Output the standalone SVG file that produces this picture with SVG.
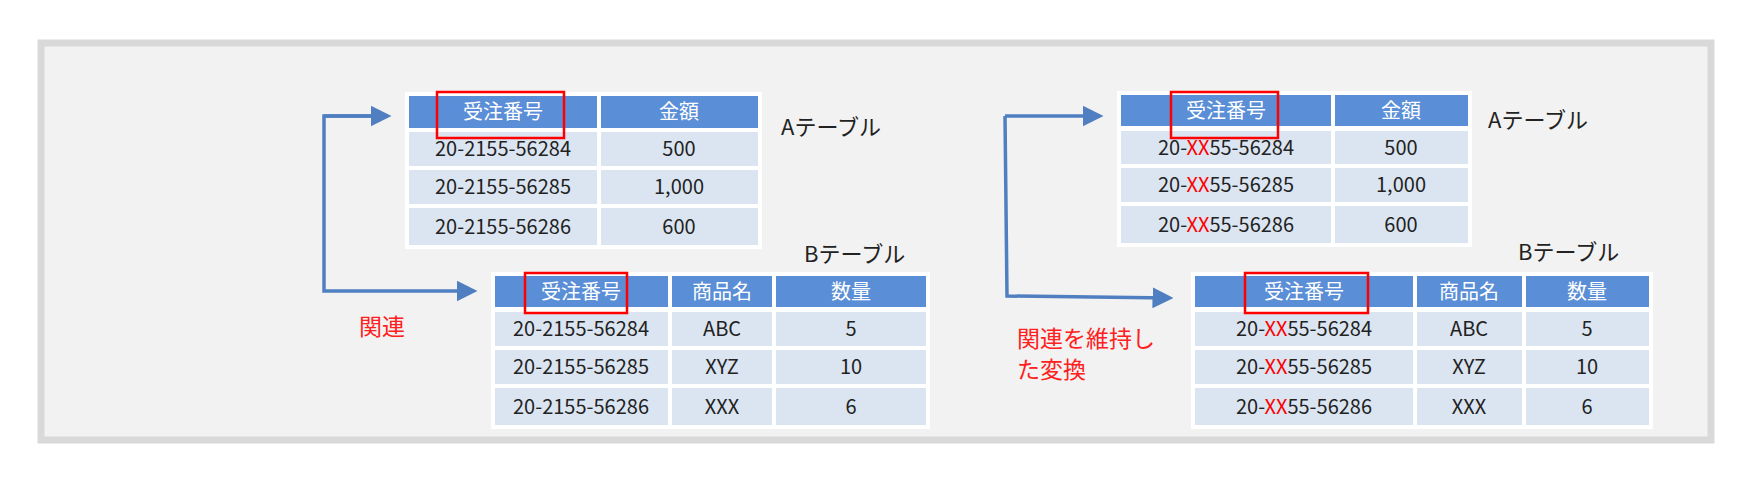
<svg xmlns="http://www.w3.org/2000/svg" width="1756" height="486" viewBox="0 0 1756 486">
<style>
.h{fill:#5a8ed6}.c{fill:#dbe5f1}.bk{fill:#fff}
text{font-family:"Noto Sans CJK JP","Noto Sans",sans-serif;font-size:20px;text-anchor:middle;fill:#222}
.ht{fill:#fff}
.lbl{text-anchor:start;font-size:22px}
.red{fill:#ff0000}
.rl{text-anchor:start;font-size:23px;fill:#ff2020}
.rb{fill:none;stroke:#ff0000;stroke-width:2.5}
.ar{fill:none;stroke:#4f7fc0;stroke-width:3.5}
</style>
<defs><marker id="ah" markerWidth="6" markerHeight="6" refX="5" refY="3" orient="auto" markerUnits="strokeWidth"><path d="M0,0 L6,3 L0,6 z" fill="#4f7fc0"/></marker></defs>
<rect x="41" y="43" width="1670" height="397" fill="#f2f2f2" stroke="#d9d9d9" stroke-width="7"/>

<g id="leftA">
<rect class="bk" x="405" y="92" width="357" height="157"/>
<rect class="h" x="409" y="96" width="188" height="32"/><rect class="h" x="601" y="96" width="157" height="32"/>
<rect class="c" x="409" y="132" width="188" height="34"/><rect class="c" x="601" y="132" width="157" height="34"/>
<rect class="c" x="409" y="170" width="188" height="34"/><rect class="c" x="601" y="170" width="157" height="34"/>
<rect class="c" x="409" y="208" width="188" height="37"/><rect class="c" x="601" y="208" width="157" height="37"/>
<text class="ht" x="503" y="119">受注番号</text><text class="ht" x="679" y="119">金額</text>
<text x="503" y="156">20-2155-56284</text><text x="679" y="156">500</text>
<text x="503" y="194">20-2155-56285</text><text x="679" y="194">1,000</text>
<text x="503" y="234">20-2155-56286</text><text x="679" y="234">600</text>
<rect class="rb" x="437" y="92" width="127" height="46"/>
<text class="lbl" x="781" y="135">Aテーブル</text>
</g>

<g id="leftB">
<rect class="bk" x="491" y="272" width="439" height="157"/>
<rect class="h" x="495" y="276" width="173" height="31"/><rect class="h" x="672" y="276" width="100" height="31"/><rect class="h" x="776" y="276" width="150" height="31"/>
<rect class="c" x="495" y="312" width="173" height="34"/><rect class="c" x="672" y="312" width="100" height="34"/><rect class="c" x="776" y="312" width="150" height="34"/>
<rect class="c" x="495" y="350" width="173" height="34"/><rect class="c" x="672" y="350" width="100" height="34"/><rect class="c" x="776" y="350" width="150" height="34"/>
<rect class="c" x="495" y="388" width="173" height="37"/><rect class="c" x="672" y="388" width="100" height="37"/><rect class="c" x="776" y="388" width="150" height="37"/>
<text class="ht" x="581" y="299">受注番号</text><text class="ht" x="722" y="299">商品名</text><text class="ht" x="851" y="299">数量</text>
<text x="581" y="336">20-2155-56284</text><text x="722" y="336">ABC</text><text x="851" y="336">5</text>
<text x="581" y="374">20-2155-56285</text><text x="722" y="374">XYZ</text><text x="851" y="374">10</text>
<text x="581" y="414">20-2155-56286</text><text x="722" y="414">XXX</text><text x="851" y="414">6</text>
<rect class="rb" x="525" y="273" width="102" height="40"/>
<text class="lbl" x="804" y="262">Bテーブル</text>
</g>

<g id="rightA">
<rect class="bk" x="1117" y="91" width="355" height="156"/>
<rect class="h" x="1121" y="95" width="210" height="31"/><rect class="h" x="1335" y="95" width="133" height="31"/>
<rect class="c" x="1121" y="131" width="210" height="33"/><rect class="c" x="1335" y="131" width="133" height="33"/>
<rect class="c" x="1121" y="168" width="210" height="34"/><rect class="c" x="1335" y="168" width="133" height="34"/>
<rect class="c" x="1121" y="206" width="210" height="37"/><rect class="c" x="1335" y="206" width="133" height="37"/>
<text class="ht" x="1226" y="118">受注番号</text><text class="ht" x="1401" y="118">金額</text>
<text x="1226" y="155">20-<tspan class="red">XX</tspan>55-56284</text><text x="1401" y="155">500</text>
<text x="1226" y="192">20-<tspan class="red">XX</tspan>55-56285</text><text x="1401" y="192">1,000</text>
<text x="1226" y="232">20-<tspan class="red">XX</tspan>55-56286</text><text x="1401" y="232">600</text>
<rect class="rb" x="1171" y="92" width="107" height="46"/>
<text class="lbl" x="1488" y="128">Aテーブル</text>
</g>

<g id="rightB">
<rect class="bk" x="1191" y="272" width="462" height="157"/>
<rect class="h" x="1195" y="276" width="218" height="31"/><rect class="h" x="1417" y="276" width="105" height="31"/><rect class="h" x="1526" y="276" width="123" height="31"/>
<rect class="c" x="1195" y="312" width="218" height="34"/><rect class="c" x="1417" y="312" width="105" height="34"/><rect class="c" x="1526" y="312" width="123" height="34"/>
<rect class="c" x="1195" y="350" width="218" height="34"/><rect class="c" x="1417" y="350" width="105" height="34"/><rect class="c" x="1526" y="350" width="123" height="34"/>
<rect class="c" x="1195" y="388" width="218" height="37"/><rect class="c" x="1417" y="388" width="105" height="37"/><rect class="c" x="1526" y="388" width="123" height="37"/>
<text class="ht" x="1304" y="299">受注番号</text><text class="ht" x="1469" y="299">商品名</text><text class="ht" x="1587" y="299">数量</text>
<text x="1304" y="336">20-<tspan class="red">XX</tspan>55-56284</text><text x="1469" y="336">ABC</text><text x="1587" y="336">5</text>
<text x="1304" y="374">20-<tspan class="red">XX</tspan>55-56285</text><text x="1469" y="374">XYZ</text><text x="1587" y="374">10</text>
<text x="1304" y="414">20-<tspan class="red">XX</tspan>55-56286</text><text x="1469" y="414">XXX</text><text x="1587" y="414">6</text>
<rect class="rb" x="1245" y="273" width="123" height="40"/>
<text class="lbl" x="1518" y="260">Bテーブル</text>
</g>

<g id="connectors">
<path class="ar" d="M388,116 L324,116 L324,291 L474,291" marker-end="url(#ah)"/>
<path class="ar" d="M324,116 L388,116" marker-end="url(#ah)"/>
<path class="ar" d="M1005,116 L1100,116" marker-end="url(#ah)"/>
<path class="ar" d="M1005,116 L1007,296 L1170,298" marker-end="url(#ah)"/>
</g>
<text class="rl" x="359" y="335">関連</text>
<text class="rl" x="1017" y="347">関連を維持し</text>
<text class="rl" x="1017" y="378">た変換</text>
</svg>
